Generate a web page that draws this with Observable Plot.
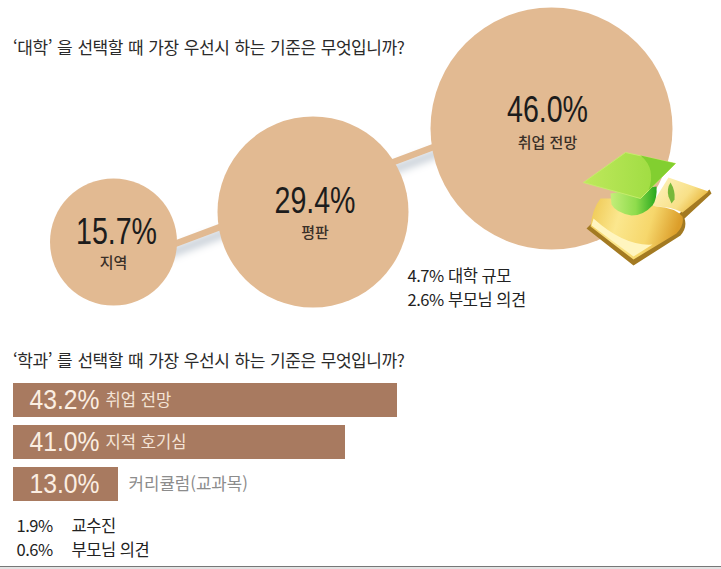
<!DOCTYPE html>
<html lang="ko"><head><meta charset="utf-8">
<script src="https://cdn.jsdelivr.net/npm/d3@7"></script>
<script src="https://cdn.jsdelivr.net/npm/@observablehq/plot@0.6"></script>
<style>
html,body{margin:0;padding:0;background:#fff;width:721px;height:569px;overflow:hidden;position:relative}
svg{display:block;background:transparent!important}
.title{position:absolute;left:13px;font:400 17px "Noto Sans CJK KR";color:#2a2a2a;letter-spacing:-.45px;word-spacing:.8px;white-space:nowrap;line-height:20px;z-index:2}
.base{position:absolute;left:0;top:566px;width:721px;height:3px;background:#e2e2e2;border-top:1.5px solid #777;box-sizing:border-box}
g[font-size="16.5"] text{letter-spacing:-.45px}
</style></head><body>
<div class="title" style="top:37px" id="t1"></div>
<div class="title" style="top:350px" id="t2"></div>
<div id="root"></div>
<div class="base"></div>
<script>
const collegeTitle = "‘대학’ 을 선택할 때 가장 우선시 하는 기준은 무엇입니까?";
const majorTitle = "‘학과’ 를 선택할 때 가장 우선시 하는 기준은 무엇입니까?";

const collegeValues = [15.7, 29.4, 46.0];
const collegeLabels = ["지역", "평판", "취업 전망"];
const collegeOtherValues = ["4.7%", "2.6%"];
const collegeOtherLabels = ["대학 규모", "부모님 의견"];
const connectorX = [15.7, 46];
const connectorY = [4.3, 51.1];

const majorValues = [43.2, 41.0, 13.0];
const majorLabels = ["취업 전망", "지적 호기심", "커리큘럼(교과목)"];
const majorOtherValues = ["1.9%", "0.6%"];
const majorOtherLabels = ["교수진", "부모님 의견"];

document.getElementById("t1").textContent = collegeTitle;
document.getElementById("t2").textContent = majorTitle;

const SANS = '"Noto Sans CJK KR"';
const NUM = '"Liberation Sans"';

const icon = `<svg xmlns="http://www.w3.org/2000/svg" viewBox="575 145 145 125" width="145" height="125">
<defs>
<linearGradient id="p" x1="0" y1="0" x2="1" y2=".2"><stop offset="0" stop-color="#eec650"/><stop offset=".35" stop-color="#fbe78e"/><stop offset=".7" stop-color="#f6d76c"/><stop offset="1" stop-color="#dc9e2a"/></linearGradient>
<linearGradient id="r" x1="0" y1="0" x2="1" y2=".5"><stop offset="0" stop-color="#fff6c6"/><stop offset=".7" stop-color="#f8e088"/><stop offset="1" stop-color="#e9b83f"/></linearGradient>
<linearGradient id="g" x1="0" y1="0" x2="1" y2="0"><stop offset="0" stop-color="#bfe85c"/><stop offset=".55" stop-color="#a8e04a"/><stop offset="1" stop-color="#98d93a"/></linearGradient>
<linearGradient id="c" x1="0" y1="0" x2="1" y2="0"><stop offset="0" stop-color="#c4ee7a"/><stop offset=".55" stop-color="#8fdc4c"/><stop offset="1" stop-color="#27a81e"/></linearGradient>
</defs>
<path d="M586 228 L633 265 L680 235 Q687 227 684 218 L711 193 L709 189 L680 212 L660 230 L633 256 L592 222Z" fill="#a37a22"/>
<path d="M650 206 L668 177 L708 191 L682 212 Q670 205 650 206Z" fill="url(#r)"/>
<path d="M600 198 Q592 208 590 226 L633 259 L676 233 Q684 225 682 216 Q674 207 656 206 L620 198Z" fill="url(#p)"/>
<path d="M591 225 L633 256 L652 244 Q624 246 593 218Z" fill="#fff5bf"/>
<path d="M610 193 L656 186 Q657 198 652 205 Q643 215 631 215 Q615 212 611 204Z" fill="url(#c)"/>
<path d="M625 152 L675 163 L640 198 L583 182Z" fill="url(#g)" stroke="#c6ec6c" stroke-width="1"/>
<path d="M640 155 L675 163 L648 190 Q656 168 640 155Z" fill="#82cf30"/>
<path d="M668 196 Q666 188 670 182 Q675 190 674 199 L671 203Z" fill="#78b83a"/>
</svg>`;
const iconSrc = "data:image/svg+xml;charset=utf-8," + encodeURIComponent(icon);

const college = collegeValues.map((v, i) => ({v, label: collegeLabels[i]}));
const connector = connectorX.map((x, i) => ({x, y: connectorY[i]}));
// Nudges of each bubble's two text lines relative to its centre.
const pctNudge = [[3, -9.5], [2, -11], [-4, -18]];
const labelNudge = [[0, 21.5], [2, 21.5], [-4, 14.5]];

const bubbles = Plot.plot({
  width: 721, height: 330, margin: 0,
  x: {axis: null, type: "linear", domain: [15.7, 29.4, 46], range: [113, 312.5, 551]},
  y: {axis: null, type: "linear", domain: [15.7, 29.4, 46], range: [241.5, 211.5, 128]},
  r: {type: "linear", domain: [15.7, 29.4, 46], range: [63.5, 95.5, 121]},
  marks: [
    Plot.line(connector, {x: "x", y: "y", stroke: "#e2ba92", strokeWidth: 6.5, imageFilter: "drop-shadow(1px 7px 4px #b4bec9)"}),
    Plot.dot(college, {x: "v", y: "v", r: "v", fill: "#e2ba92", stroke: "none"}),
    ...college.flatMap((d, i) => [
      Plot.text([d], {x: "v", y: "v", text: e => e.v.toFixed(1) + "%", dx: pctNudge[i][0], dy: pctNudge[i][1], fontSize: 36, fontFamily: NUM, fill: "#1c1c1c"}),
      Plot.text([d], {x: "v", y: "v", text: "label", dx: labelNudge[i][0], dy: labelNudge[i][1], fontSize: 15, fontFamily: SANS, fontWeight: 500, fill: "#3a3028"})
    ]),
    Plot.text([collegeOtherValues.map((v, i) => v + " " + collegeOtherLabels[i]).join("\n")], {
      frameAnchor: "top-left", dx: 407, dy: 264, textAnchor: "start", lineAnchor: "top", lineHeight: 1.46,
      fontSize: 16.5, fontFamily: SANS, fill: "#222"}),
    Plot.image([iconSrc], {src: d => d, frameAnchor: "top-left", dx: 647.5, dy: 207.5, width: 145, height: 125})
  ]
});

const major = majorValues.map((v, i) => ({v, label: majorLabels[i]}));
const bars = Plot.plot({
  width: 721, height: 239, margin: 0,
  x: {axis: null, type: "linear", domain: [0, 13, 41, 43.2], range: [13, 118, 345, 397]},
  y: {axis: null, domain: majorLabels, range: [52, 172], paddingInner: .2, paddingOuter: 0},
  marks: [
    Plot.barX(major, {x: "v", y: "label", fill: "#a87a60", sort: null}),
    Plot.text(major, {x: 0, y: "label", text: d => d.v.toFixed(1) + "%", dx: 86, textAnchor: "end", fontSize: 28, fontFamily: NUM, fill: "#fbeee2"}),
    Plot.text(major.filter(d => d.v > 20), {x: 0, y: "label", text: "label", dx: 92, textAnchor: "start", fontSize: 16.6, fontFamily: SANS, fill: "#f4e4d6"}),
    Plot.text(major.filter(d => d.v <= 20), {x: "v", y: "label", text: "label", dx: 10, textAnchor: "start", fontSize: 16.8, fontFamily: SANS, fill: "#8c8c8c"}),
    Plot.text([majorOtherValues.join("\n")], {frameAnchor: "top-left", dx: 16, dy: 184, textAnchor: "start", lineAnchor: "top", lineHeight: 1.47, fontSize: 16.5, fontFamily: SANS, fill: "#222"}),
    Plot.text([majorOtherLabels.join("\n")], {frameAnchor: "top-left", dx: 71, dy: 184, textAnchor: "start", lineAnchor: "top", lineHeight: 1.47, fontSize: 16.5, fontFamily: SANS, fill: "#222"})
  ]
});

const root = document.getElementById("root");
root.append(bubbles, bars);
// Condense the large percentages to the reference's narrow number face.
root.querySelectorAll('g[font-size="36"] text').forEach(t => { t.setAttribute("textLength", 81); t.setAttribute("lengthAdjust", "spacingAndGlyphs"); });
root.querySelectorAll('g[font-size="28"] text').forEach(t => { t.setAttribute("textLength", 70); t.setAttribute("lengthAdjust", "spacingAndGlyphs"); });
</script>
</body></html>
